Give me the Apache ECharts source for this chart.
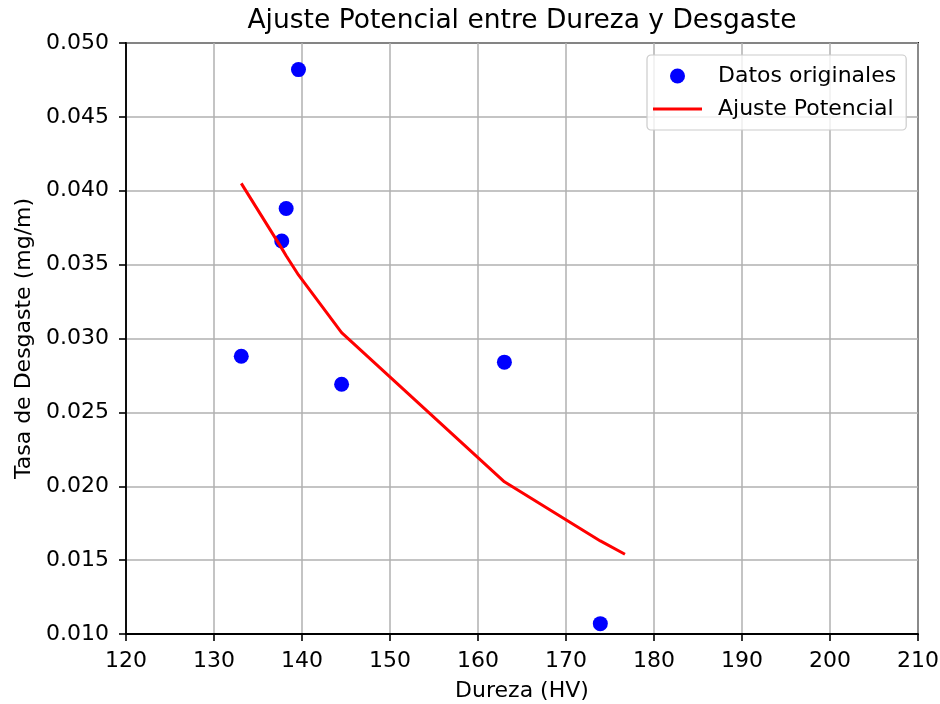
<!DOCTYPE html>
<html>
<head>
<meta charset="utf-8">
<script src="https://cdn.jsdelivr.net/npm/echarts@6/dist/echarts.min.js"></script>
<style>
  html, body { margin: 0; padding: 0; background: #fff; }
  #chart { width: 940px; height: 704px; }
</style>
</head>
<body>
<div id="chart"></div>
<script>
// Measured hardness (HV) and wear rate (mg/m)
const dureza = [133.1, 139.6, 138.2, 137.7, 144.5, 163.0, 173.9];
const desgaste = [0.0288, 0.0482, 0.0388, 0.0366, 0.0269, 0.0284, 0.0107];

// Power-law fit curve, sorted by hardness
const ajusteX = [133.1, 137.7, 138.2, 139.6, 144.5, 163.0, 173.9, 176.7];
const ajusteY = [0.0405, 0.0361, 0.0356, 0.0343, 0.0304, 0.0203, 0.0163, 0.0154];

const FONT = 'DejaVu Sans';
const LABEL_SIZE = 22;

const chart = echarts.init(document.getElementById('chart'), null, { renderer: 'canvas' });

chart.setOption({
  animation: false,
  backgroundColor: '#ffffff',
  textStyle: { fontFamily: FONT, color: '#000' },
  title: {
    text: 'Ajuste Potencial entre Dureza y Desgaste',
    left: 517,
    textAlign: 'center',
    top: 3,
    textStyle: { fontFamily: FONT, fontSize: 26.5, fontWeight: 'normal', color: '#000' }
  },
  grid: {
    left: 126, right: 22, top: 43, bottom: 70,
    outerBoundsMode: 'none',
    containLabel: false,
    show: true, borderColor: '#000', borderWidth: 1.8, backgroundColor: 'transparent'
  },
  legend: {
    orient: 'vertical',
    left: 647, top: 55,
    padding: [8, 10, 8, 6],
    itemGap: 7,
    itemWidth: 49,
    itemHeight: 15,
    borderColor: '#cccccc', borderWidth: 1.2, borderRadius: 4,
    backgroundColor: 'rgba(255,255,255,0.8)',
    formatter: '{t|{name}}',
    textStyle: {
      fontFamily: FONT, fontSize: LABEL_SIZE, color: '#000', lineHeight: 26,
      rich: { t: { fontFamily: FONT, fontSize: LABEL_SIZE, color: '#000', lineHeight: 26, padding: [0, 0, 0, 11] } }
    },
    data: [
      { name: 'Datos originales', icon: 'circle' },
      { name: 'Ajuste Potencial', icon: 'path://M0,0H49V3H0Z' }
    ]
  },
  xAxis: {
    type: 'value',
    min: 120, max: 210, interval: 10,
    name: 'Dureza (HV)',
    nameLocation: 'middle',
    nameGap: 46,
    nameTextStyle: { fontFamily: FONT, fontSize: LABEL_SIZE, color: '#000' },
    axisLine: { show: true, onZero: false, lineStyle: { color: '#000', width: 1.8 } },
    axisTick: { show: true, inside: false, length: 7, lineStyle: { color: '#000', width: 1.6 } },
    axisLabel: { margin: 16, fontFamily: FONT, fontSize: LABEL_SIZE, color: '#000' },
    splitLine: { show: true, lineStyle: { color: '#b0b0b0', width: 1.5 } }
  },
  yAxis: {
    type: 'value',
    min: 0.010, max: 0.050, interval: 0.005,
    name: 'Tasa de Desgaste (mg/m)',
    nameLocation: 'middle',
    nameGap: 90,
    nameRotate: 90,
    nameTextStyle: { fontFamily: FONT, fontSize: LABEL_SIZE, color: '#000' },
    axisLine: { show: true, onZero: false, lineStyle: { color: '#000', width: 1.8 } },
    axisTick: { show: true, inside: false, length: 7, lineStyle: { color: '#000', width: 1.6 } },
    axisLabel: {
      margin: 17, fontFamily: FONT, fontSize: LABEL_SIZE, color: '#000',
      formatter: v => v.toFixed(3)
    },
    splitLine: { show: true, lineStyle: { color: '#b0b0b0', width: 1.5 } }
  },
  series: [
    {
      name: 'Datos originales',
      type: 'scatter',
      symbol: 'circle',
      symbolSize: 15,
      itemStyle: { color: '#0000ff', opacity: 1 },
      data: dureza.map((x, i) => [x, desgaste[i]]),
      z: 3
    },
    {
      name: 'Ajuste Potencial',
      type: 'line',
      symbol: 'none',
      lineStyle: { color: '#ff0000', width: 3 },
      itemStyle: { color: '#ff0000' },
      data: ajusteX.map((x, i) => [x, ajusteY[i]]),
      z: 4
    }
  ]
});
</script>
</body>
</html>
